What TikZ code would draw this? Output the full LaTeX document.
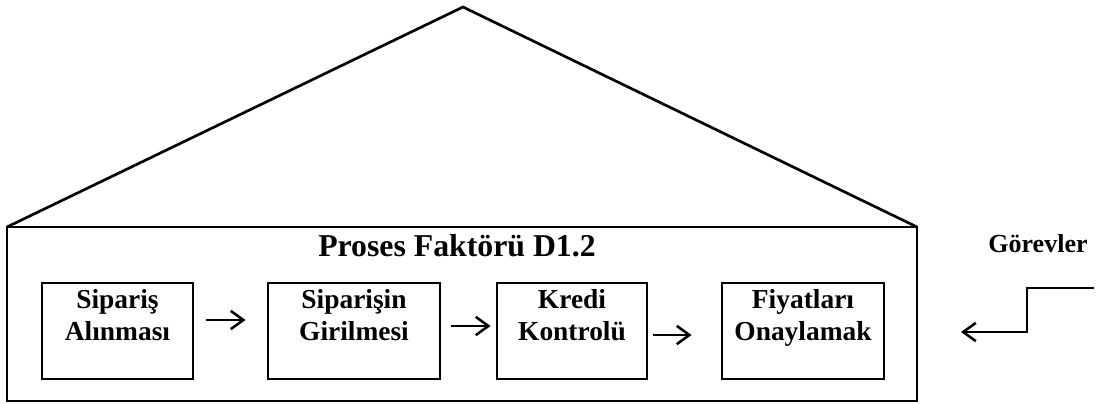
\documentclass[tikz,border=0pt]{standalone}
\usepackage{fontspec}
\setmainfont{Liberation Serif}
\usetikzlibrary{arrows.meta}

\tikzset{
	gorev/.style={draw, line width=2pt, minimum height=2.4cm, align=center, inner sep=0pt, font=\fontsize{19.5}{22.7}\selectfont\bfseries},
	akis/.style={line width=1.8pt, -{Straight Barb[length=9pt,width=13pt]}},
}

\begin{document}
\begin{tikzpicture}[x=0.025cm, y=-0.025cm]
	\useasboundingbox (0,0) rectangle (1096,403);
	% cati ve cerceve
	\draw[line width=1.9pt] (7,227) -- (463,7) -- (917,227);
	\draw[line width=2.1pt] (7,227) rectangle (917,401);
	\node[anchor=base, font=\fontsize{22.6}{26}\selectfont\bfseries] (baslik) at (457,256) {Proses Faktörü D1.2};
	% gorev kutulari
	\node[gorev, minimum width=3.775cm] (siparis) at (117.5,331) {Sipariş\\Alınması\\~};
	\node[gorev, minimum width=4.3cm] (giris) at (354,331) {Siparişin\\Girilmesi\\~};
	\node[gorev, minimum width=3.75cm] (kredi) at (572,331) {Kredi\\Kontrolü\\~};
	\node[gorev, minimum width=4.05cm] (fiyat) at (803,331) {Fiyatları\\Onaylamak\\~};
	\draw[akis, shorten <=0.3cm, shorten >=0.525cm] ([yshift=0.275cm]siparis.east) -- ([yshift=0.275cm]giris.west);
	\draw[akis, shorten <=0.25cm, shorten >=0.125cm] ([yshift=0.125cm]giris.east) -- ([yshift=0.125cm]kredi.west);
	\draw[akis, shorten <=0.125cm, shorten >=0.725cm] ([yshift=-0.1cm]kredi.east) -- ([yshift=-0.1cm]fiyat.west);
	% gorevler girdisi
	\node[anchor=base, font=\fontsize{18.5}{22}\selectfont\bfseries] (gorevler) at (1038,252) {Görevler};
	\coordinate (girdi) at (1094,288);
	\coordinate (hedef) at (961,332);
	\draw[akis] (girdi) -- (1027,288) |- (hedef);
\end{tikzpicture}
\end{document}
